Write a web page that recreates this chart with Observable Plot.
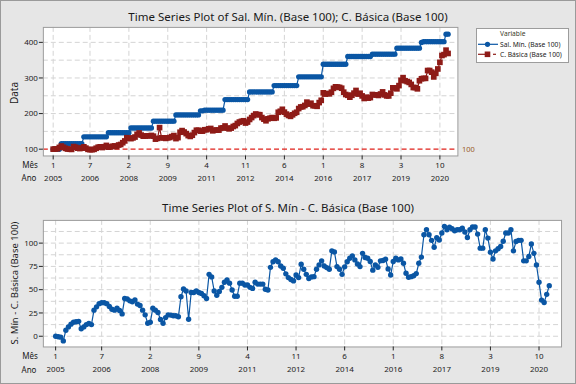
<!DOCTYPE html>
<html><head><meta charset="utf-8">
<script src="https://cdn.jsdelivr.net/npm/d3@7"></script>
<script src="https://cdn.jsdelivr.net/npm/@observablehq/plot@0.6"></script>
<style>
body{margin:0;background:#fff}
#fig{position:relative;width:576px;height:384px;background:#e6e6e6;overflow:hidden;box-sizing:border-box;border:1px solid #9a9a9a}
#fig svg{position:absolute}
</style></head><body><div id="fig"></div>
<script>
// ---- data (index 1 = Jan 2005, monthly) ----
const tickIdx = [1,19,38,57,76,95,114,133,152,171,190];
const tickMes = ["1","7","2","9","4","11","6","1","8","3","10"];
const tickAno = ["2005","2006","2008","2009","2011","2012","2014","2016","2017","2019","2020"];
const yTicksTop = [100,200,300,400];
const yGridTop = [150,200,250,300,350,400];
const yTicksBot = [0,25,50,75,100];
const yGridBot = [0,12.5,25,37.5,50,62.5,75,87.5,100,112.5];

const salMin = [
100,100,100,100,
115.4,115.4,115.4,115.4,115.4,115.4,115.4,115.4,115.4,115.4,115.4,
134.6,134.6,134.6,134.6,134.6,134.6,134.6,134.6,134.6,134.6,134.6,134.6,
146.2,146.2,146.2,146.2,146.2,146.2,146.2,146.2,146.2,146.2,146.2,
159.6,159.6,159.6,159.6,159.6,159.6,159.6,159.6,159.6,159.6,159.6,
178.8,178.8,178.8,178.8,178.8,178.8,178.8,178.8,178.8,178.8,178.8,
196.2,196.2,196.2,196.2,196.2,196.2,196.2,196.2,196.2,196.2,196.2,196.2,
207.7,207.7,
209.6,209.6,209.6,209.6,209.6,209.6,209.6,209.6,209.6,209.6,
239.2,239.2,239.2,239.2,239.2,239.2,239.2,239.2,239.2,239.2,239.2,239.2,
260.8,260.8,260.8,260.8,260.8,260.8,260.8,260.8,260.8,260.8,260.8,260.8,
278.5,278.5,278.5,278.5,278.5,278.5,278.5,278.5,278.5,278.5,278.5,278.5,
303.1,303.1,303.1,303.1,303.1,303.1,303.1,303.1,303.1,303.1,303.1,303.1,
338.5,338.5,338.5,338.5,338.5,338.5,338.5,338.5,338.5,338.5,338.5,338.5,
360.4,360.4,360.4,360.4,360.4,360.4,360.4,360.4,360.4,360.4,360.4,360.4,
366.9,366.9,366.9,366.9,366.9,366.9,366.9,366.9,366.9,366.9,366.9,366.9,
383.8,383.8,383.8,383.8,383.8,383.8,383.8,383.8,383.8,383.8,383.8,383.8,
399.6,
401.9,401.9,401.9,401.9,401.9,401.9,401.9,401.9,401.9,401.9,401.9,
423.1,423.1];

const cBasica = [
100,100.5,101,105,108.9,105.4,102.4,100.4,99.9,99.4,
107.4,105.4,102.9,101.7,102.9,106.6,103,99.6,98.6,98.6,
99.6,102.6,105.6,106.6,104.6,106.9,110.6,105.6,106.2,108.2,
109.2,107.2,111.7,113.2,118.2,123.2,132.2,131.2,129.6,131.6,
134.1,141.6,145.6,139.6,136.6,136.9,137.6,137.6,138.6,136.5,
128.2,130.3,160.6,131.9,131.9,130.3,131.9,132.9,135.4,138.3,
129.7,132.5,147.6,152.2,148.2,143.7,138.2,135.8,139.2,146.6,
153.2,153.2,150.7,150.7,154.6,154.6,157.1,158.2,151.6,153.6,
153.6,153.6,159.2,160,165.2,159.2,157.2,159.2,163.7,166.2,
172.2,176.2,178.2,179.8,173.4,176.2,183.5,188.8,194.3,198.8,
197.1,196.8,188.8,184.2,179.8,185.3,187.1,188.8,186.8,187.9,
203.7,206.5,212,204,198.5,194.7,192.2,196.5,200.8,203.7,
214.1,218.6,219.3,222.9,232.1,226.5,229.1,222.1,221.8,220.4,
230.8,237.3,258.3,254.7,256.5,255.5,260.1,270.9,275.2,274.5,
273.5,271.2,260.1,253.5,251.4,246,251.4,257.4,264.9,254.7,
257.1,249.6,242.4,246,243.4,244.9,253.6,252.5,252.5,250.9,
254.9,260.9,252.5,249.6,249.6,257.2,272.3,272.3,269.5,278.5,
293.6,300.9,292.2,289.9,287.5,281.9,273.1,273.1,269.5,292.2,
297.8,298.9,298.9,320.9,320.9,316.3,302.9,312.9,325.3,343.9,
363.1,365.6,378.1,368.8];

const diffSC = [
0,-0.5,-1,-5,6.5,10,13,15,15.5,16,
8,10,12.5,13.7,12.5,28,31.6,35,36,36,
35,32,29,28,30,27.7,24,40.6,40,38,
37,39,34.5,33,28,23,14,15,30,28,
25.5,18,14,20,23,22.7,22,22,21,42.4,
50.7,48.6,18.3,47,47,48.6,47,46,43.5,40.6,
66.5,63.7,48.6,44,48,52.5,58,60.4,57,49.6,
43,43,57,57,55,55,52.5,51.4,58,56,
56,56,50.4,49.6,74,80,82,80,75.5,73,
67,63,61,59.4,65.8,63,77.3,72,66.5,62,
63.7,64,72,76.6,81,75.5,73.7,72,91.7,90.6,
74.8,72,66.5,74.5,80,83.8,86.3,82,77.7,74.8,
89,84.5,83.8,80.2,71,76.6,74,81,81.3,82.7,
72.3,65.8,80.2,83.8,82,83,78.4,67.6,63.3,64,
65,67.3,78.4,85,109,114.4,109,103,95.5,105.7,
103.3,110.8,118,114.4,117,115.5,113.3,114.4,114.4,116,
112,106,114.4,117.3,117.3,109.7,94.6,94.6,114.4,105.4,
90.3,83,91.7,94,96.4,102,110.8,110.8,114.4,91.7,
101.8,103,103,81,81,85.6,99,89,76.6,58,
38.8,36.3,45,54.3];

// ---- styling ----
const FONT = "'Segoe UI','Noto Sans','Open Sans',sans-serif";
const BLUE = "#0a56a4", RED = "#8e1b17", GRID = "#d4d4d4", FRAME = "#9c9c9c";
const rows = salMin.map((v, k) => ({t: k + 1, sal: v, cb: cBasica[k], d: diffSC[k]}));
const mes = d => tickMes[tickIdx.indexOf(d)];
const ano = d => tickAno[tickIdx.indexOf(d)];
const xDomain = [-3.8, 198.8];

const fig = document.getElementById("fig");

const topPlot = Plot.plot({
  width: 576, height: 192,
  marginLeft: 43, marginRight: 117, marginTop: 27, marginBottom: 36,
  style: {background: "transparent", fontFamily: FONT, fontSize: "8px", color: "#222"},
  x: {domain: xDomain, axis: null},
  y: {domain: [81, 442], axis: null},
  marks: [
    Plot.frame({fill: "white"}),
    Plot.gridX(tickIdx, {stroke: GRID, strokeOpacity: 1, strokeDasharray: "5,3"}),
    Plot.gridY(yGridTop, {stroke: GRID, strokeOpacity: 1, strokeDasharray: "5,3"}),
    Plot.ruleY([100], {stroke: "#e0201a", strokeWidth: 1.2, strokeDasharray: "5,3"}),
    Plot.text([100], {y: d => d, text: d => String(d), frameAnchor: "right", textAnchor: "start", dx: 4, fill: "#9a5a2a", fontSize: 7.5}),
    Plot.line(rows, {x: "t", y: "sal", stroke: BLUE, strokeWidth: 1.2}),
    Plot.dot(rows, {x: "t", y: "sal", fill: BLUE, r: 2.7, symbol: "circle"}),
    Plot.line(rows, {x: "t", y: "cb", stroke: RED, strokeWidth: 1.2}),
    Plot.dot(rows, {x: "t", y: "cb", fill: RED, r: 3.2, symbol: "square"}),
    Plot.frame({stroke: FRAME}),
    Plot.axisY(yTicksTop, {tickSize: 4, tickPadding: 1.5, label: null, fontSize: 8}),
    Plot.axisX(tickIdx, {tickSize: 4, tickPadding: 2, tickFormat: mes, label: null, fontSize: 8}),
    Plot.axisX(tickIdx, {tickSize: 0, tickPadding: 19, tickFormat: ano, label: null, fontSize: 8})
  ]
});
topPlot.style.left = "-1px"; topPlot.style.top = "-1px";
fig.appendChild(topPlot);

const botPlot = Plot.plot({
  width: 576, height: 192,
  marginLeft: 43, marginRight: 13, marginTop: 28, marginBottom: 37,
  style: {background: "transparent", fontFamily: FONT, fontSize: "8px", color: "#222"},
  x: {domain: xDomain, axis: null},
  y: {domain: [-11.5, 124.4], axis: null},
  marks: [
    Plot.frame({fill: "white"}),
    Plot.gridX(tickIdx, {stroke: GRID, strokeOpacity: 1, strokeDasharray: "5,3"}),
    Plot.gridY(yGridBot, {stroke: GRID, strokeOpacity: 1, strokeDasharray: "5,3"}),
    Plot.line(rows, {x: "t", y: "d", stroke: BLUE, strokeWidth: 1.2}),
    Plot.dot(rows, {x: "t", y: "d", fill: BLUE, r: 2.7}),
    Plot.frame({stroke: FRAME}),
    Plot.axisY(yTicksBot, {tickSize: 4, tickPadding: 1.5, label: null, fontSize: 8}),
    Plot.axisX(tickIdx, {tickSize: 4, tickPadding: 2, tickFormat: mes, label: null, fontSize: 8}),
    Plot.axisX(tickIdx, {tickSize: 0, tickPadding: 19.5, tickFormat: ano, label: null, fontSize: 8})
  ]
});
botPlot.style.left = "-1px"; botPlot.style.top = "191px";
fig.appendChild(botPlot);

// ---- overlay: titles, axis labels, legend ----
const ov = d3.create("svg").attr("width", 576).attr("height", 384)
  .style("left", "-1px").style("top", "-1px")
  .style("font-family", FONT).style("fill", "#1a1a1a");
const txt = (x, y, s, size, opts = {}) => {
  const t = ov.append("text").attr("x", x).attr("y", y).text(s)
    .attr("font-size", size).attr("text-anchor", opts.anchor || "middle")
    .attr("dominant-baseline", "central");
  if (opts.rot) t.attr("transform", `rotate(-90 ${x} ${y})`);
  if (opts.fill) t.attr("fill", opts.fill);
  return t;
};
txt(288, 16, "Time Series Plot of Sal. Mín. (Base 100); C. Básica (Base 100)", 11.5);
txt(288, 207, "Time Series Plot of S. Mín - C. Básica (Base 100)", 11.5);
txt(14, 93, "Data", 10, {rot: true});
txt(14, 283, "S. Mín - C. Básica (Base 100)", 9.5, {rot: true});
txt(30, 164, "Mês", 8); txt(29, 177, "Ano", 8);
txt(30, 355.7, "Mês", 8); txt(29, 369, "Ano", 8);

// legend
const lg = ov.append("g");
lg.append("rect").attr("x", 476.5).attr("y", 28.5).attr("width", 92).attr("height", 34)
  .attr("fill", "white").attr("stroke", FRAME);
txt(500, 33.8, "Variable", 6.7, {anchor: "start", fill: "#3a3a2a"});
lg.append("line").attr("x1", 478).attr("x2", 498).attr("y1", 44.3).attr("y2", 44.3).attr("stroke", BLUE).attr("stroke-width", 1.2);
lg.append("circle").attr("cx", 487.5).attr("cy", 44.3).attr("r", 2.6).attr("fill", BLUE);
txt(500, 44.3, "Sal. Mín. (Base 100)", 6.7, {anchor: "start"});
lg.append("line").attr("x1", 478).attr("x2", 490).attr("y1", 54.3).attr("y2", 54.3).attr("stroke", RED).attr("stroke-width", 1.2);
lg.append("line").attr("x1", 493).attr("x2", 496).attr("y1", 54.3).attr("y2", 54.3).attr("stroke", RED).attr("stroke-width", 1.2);
lg.append("rect").attr("x", 484.7).attr("y", 51.5).attr("width", 5.6).attr("height", 5.6).attr("fill", RED);
txt(500, 54.3, "C. Básica (Base 100)", 6.7, {anchor: "start"});
fig.appendChild(ov.node());
</script></body></html>
